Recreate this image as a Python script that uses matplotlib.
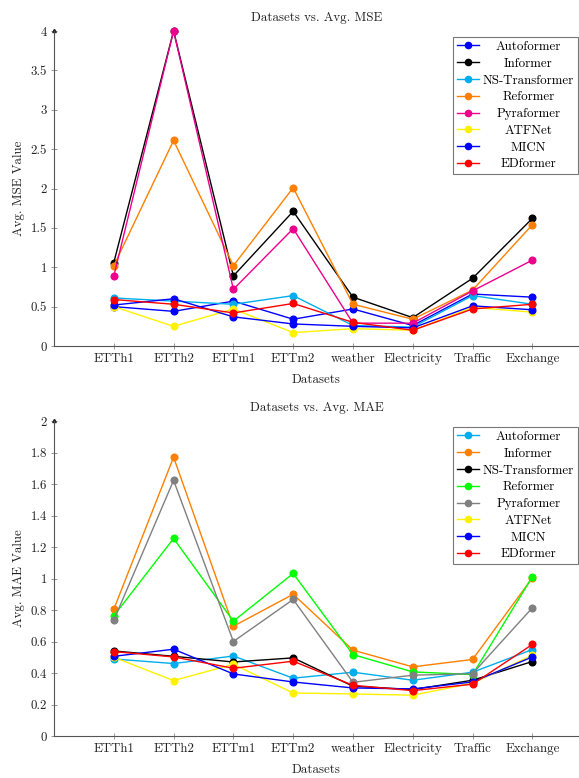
import matplotlib
matplotlib.use("Agg")
import matplotlib.pyplot as plt
from matplotlib.ticker import FuncFormatter, FixedLocator

plt.rcParams['font.family'] = ['cmr10', 'DejaVu Serif']
plt.rcParams['axes.formatter.use_mathtext'] = True
plt.rcParams['mathtext.fontset'] = 'cm'

datasets = ["ETTh1", "ETTh2", "ETTm1", "ETTm2", "weather", "Electricity", "Traffic", "Exchange"]

# ---- MSE ----
mse_models = ["Autoformer", "Informer", "NS-Transformer", "Reformer", "Pyraformer", "ATFNet", "MICN", "EDformer"]
mse_colors = ["#0000FF", "#000000", "#00AEEF", "#FF8000", "#EC008C", "#FFF200", "#0000FF", "#FF0000"]
mse_autoformer = [0.50, 0.44, 0.57, 0.34, 0.47, 0.26, 0.66, 0.62]
mse_informer = [1.06, 4.00, 0.89, 1.71, 0.62, 0.36, 0.86, 1.62]
mse_nstrans = [0.61, 0.57, 0.53, 0.64, 0.26, 0.24, 0.64, 0.53]
mse_reformer = [1.02, 2.61, 1.02, 2.01, 0.53, 0.34, 0.71, 1.54]
mse_pyraformer = [0.89, 4.00, 0.72, 1.49, 0.29, 0.29, 0.70, 1.09]
mse_atfnet = [0.50, 0.25, 0.47, 0.17, 0.22, 0.20, 0.49, 0.43]
mse_micn = [0.52, 0.60, 0.37, 0.28, 0.25, 0.23, 0.51, 0.46]
mse_edformer = [0.59, 0.53, 0.42, 0.54, 0.30, 0.20, 0.47, 0.53]
mse_series = [mse_autoformer, mse_informer, mse_nstrans, mse_reformer,
              mse_pyraformer, mse_atfnet, mse_micn, mse_edformer]
mse_yticks = [0, 0.5, 1, 1.5, 2, 2.5, 3, 3.5, 4]

# ---- MAE ----
mae_models = ["Autoformer", "Informer", "NS-Transformer", "Reformer", "Pyraformer", "ATFNet", "MICN", "EDformer"]
mae_colors = ["#00AEEF", "#FF8000", "#000000", "#00FF00", "#808080", "#FFF200", "#0000FF", "#FF0000"]
mae_autoformer = [0.489, 0.460, 0.508, 0.367, 0.405, 0.354, 0.405, 0.549]
mae_informer = [0.805, 1.770, 0.697, 0.900, 0.545, 0.439, 0.486, 1.004]
mae_nstrans = [0.540, 0.506, 0.470, 0.496, 0.316, 0.295, 0.354, 0.473]
mae_reformer = [0.763, 1.254, 0.729, 1.032, 0.517, 0.407, 0.390, 1.011]
mae_pyraformer = [0.735, 1.623, 0.600, 0.867, 0.341, 0.386, 0.396, 0.814]
mae_atfnet = [0.500, 0.352, 0.455, 0.273, 0.267, 0.259, 0.335, 0.513]
mae_micn = [0.506, 0.551, 0.394, 0.343, 0.305, 0.299, 0.343, 0.502]
mae_edformer = [0.536, 0.502, 0.430, 0.475, 0.322, 0.288, 0.329, 0.581]
mae_series = [mae_autoformer, mae_informer, mae_nstrans, mae_reformer,
              mae_pyraformer, mae_atfnet, mae_micn, mae_edformer]
mae_yticks = [0, 0.2, 0.4, 0.6, 0.8, 1, 1.2, 1.4, 1.6, 1.8, 2]

W, H = 579, 778
fig = plt.figure(figsize=(W / 100, H / 100), dpi=100)

FS = 9.3
axcol = "#555555"


def make_axes(rect, models, colors, series, yticks, ymax, title, ylabel):
    ax = fig.add_axes(rect)
    x = list(range(len(datasets)))
    for m, c, s in zip(models, colors, series):
        ax.plot(x, s, color=c, lw=1.0, marker='o', ms=4.8,
                mec=c, mfc=c, label=m, clip_on=False, zorder=3)
    ax.set_xlim(-1, 7.78)
    ax.set_ylim(0, ymax)
    ax.spines['top'].set_visible(False)
    ax.spines['right'].set_visible(False)
    for sp in ('left', 'bottom'):
        ax.spines[sp].set_color(axcol)
        ax.spines[sp].set_linewidth(0.8)
    ax.xaxis.set_major_locator(FixedLocator(x))
    ax.set_xticklabels(datasets)
    ax.yaxis.set_major_locator(FixedLocator(yticks))
    ax.yaxis.set_major_formatter(FuncFormatter(lambda v, p: "%g" % v))
    ax.tick_params(axis='both', direction='inout', length=4, width=0.6,
                   color="#888888", labelsize=FS, labelcolor="#222222", pad=3)
    ax.set_title(title, fontsize=FS, color="#222222", pad=7)
    ax.set_xlabel("Datasets", fontsize=FS, color="#222222", labelpad=6)
    ax.set_ylabel(ylabel, fontsize=FS, color="#222222", labelpad=4)
    ax.plot([0], [1.0], marker=(3, 0, 0), ms=3, color="#222222",
            transform=ax.transAxes, clip_on=False)
    leg = ax.legend(loc='upper right', bbox_to_anchor=(1.0, 1.0),
                    fontsize=FS, frameon=True, fancybox=False,
                    edgecolor="#777777", framealpha=1, borderpad=0.3,
                    labelspacing=0.36, handlelength=1.7, handletextpad=0.3,
                    borderaxespad=0.0)
    leg.get_frame().set_linewidth(0.8)
    for h in leg.get_lines():
        h.set_markersize(4.5)
    return ax, leg


ax1, leg1 = make_axes([54 / W, 1 - 346 / H, 1 - 54 / W, (346 - 31) / H],
                      mse_models, mse_colors, mse_series, mse_yticks, 4,
                      "Datasets vs. Avg. MSE", "Avg. MSE Value")
ax2, leg2 = make_axes([54 / W, 1 - 736 / H, 1 - 54 / W, (736 - 421) / H],
                      mae_models, mae_colors, mae_series, mae_yticks, 2,
                      "Datasets vs. Avg. MAE", "Avg. MAE Value")

# legend box placement in figure coordinates (top-right corner)
leg1.set_bbox_to_anchor((578 / W, 1 - 37 / H), transform=fig.transFigure)
leg2.set_bbox_to_anchor((578 / W, 1 - 427 / H), transform=fig.transFigure)

# center legend labels within their column
fig.canvas.draw()
r = fig.canvas.get_renderer()
for leg in (leg1, leg2):
    texts = leg.get_texts()
    ws = [t.get_window_extent(r).width for t in texts]
    mw = max(ws)
    for t, w in zip(texts, ws):
        t.set_position(((mw - w) / 2, 0))

fig.savefig("out.png", dpi=100)
